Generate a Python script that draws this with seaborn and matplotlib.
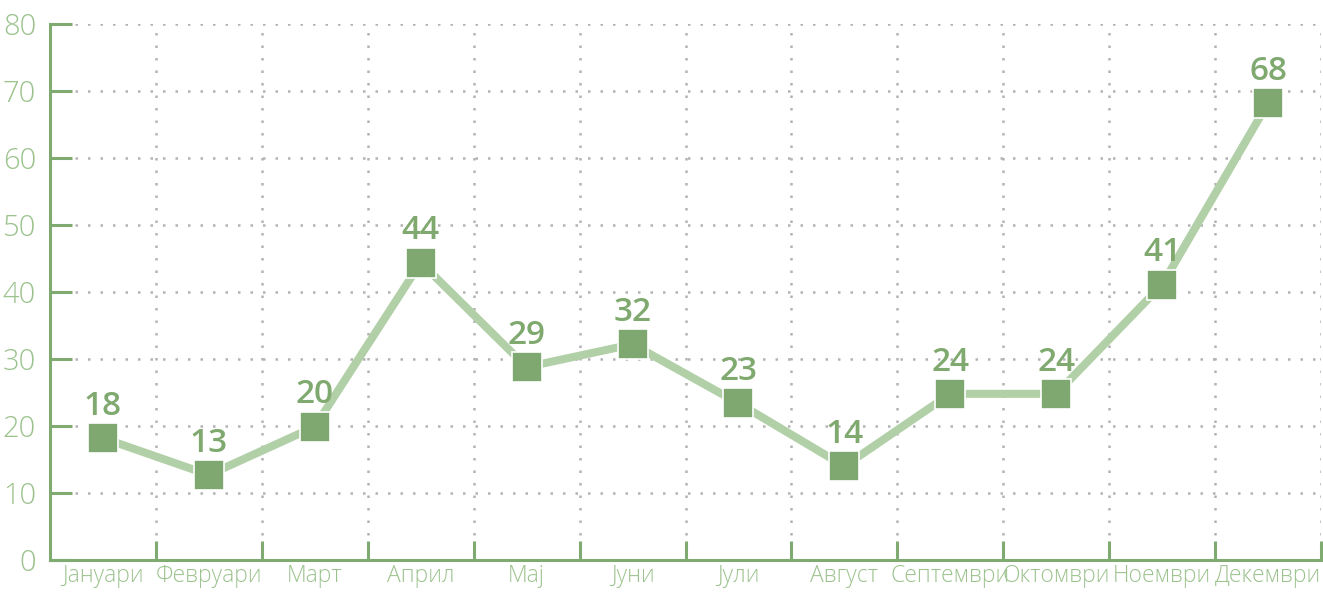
import numpy as np
import matplotlib
matplotlib.use("Agg")
from matplotlib import pyplot as plt
import seaborn as sns

months = ['Јануари', 'Февруари', 'Март', 'Април', 'Мај', 'Јуни', 'Јули',
          'Август', 'Септември', 'Октомври', 'Ноември', 'Декември']
values = [18.2, 12.7, 19.9, 44.4, 28.8, 32.2, 23.4, 14.0, 24.8, 24.8, 41.1, 68.2]
labels = ['18', '13', '20', '44', '29', '32', '23', '14', '24', '24', '41', '68']
y_ticks = [0, 10, 20, 30, 40, 50, 60, 70, 80]

axis_green = '#80ab70'
text_green = '#9cc38e'
line_green = '#b1d0a7'
marker_green = '#7fa870'
label_green = '#7fa96f'

sns.set_style('white')
plt.rcParams['font.family'] = ['Open Sans', 'DejaVu Sans']

fig = plt.figure(figsize=(13.23, 5.92), dpi=100)
ax = fig.add_axes([50 / 1323, 1 - 560 / 592, 1271 / 1323, 536 / 592])

x = np.arange(len(months))
sns.lineplot(x=x, y=values, ax=ax, color=line_green, linewidth=5.8,
             marker='s', markersize=21, markerfacecolor=marker_green,
             markeredgecolor='white', markeredgewidth=1.2, zorder=3)

for xi, v, lab in zip(x, values, labels):
    ax.annotate(lab, (xi, v), xytext=(0, 11), textcoords='offset points',
                ha='center', va='bottom', fontsize=24, fontweight='semibold',
                color=label_green, zorder=4)

ax.set_xlim(-0.5, 11.5)
ax.set_ylim(0, 80)
ax.set_yticks(y_ticks)
ax.set_yticklabels([str(t) for t in y_ticks])
ax.set_xticks(x)
ax.set_xticklabels(months)
ax.set_xticks(np.arange(0.5, 12, 1), minor=True)

ax.tick_params(axis='x', which='major', bottom=True, length=0, pad=3,
               labelsize=16.5, labelcolor=text_green)
ax.tick_params(axis='x', which='minor', bottom=True, direction='in', length=14,
               width=2.2, color=axis_green)
ax.tick_params(axis='y', which='major', left=True, direction='in', length=16,
               width=2.2, color=axis_green, pad=10, labelsize=21,
               labelcolor=text_green)
for t in ax.get_xticklabels() + ax.get_yticklabels():
    t.set_fontweight('light')

ax.grid(True, axis='y', which='major', color='#b3b3b3', linestyle=(0, (1, 4)),
        linewidth=1.8)
ax.grid(True, axis='x', which='minor', color='#b3b3b3', linestyle=(0, (1, 4)),
        linewidth=1.8)
ax.grid(False, axis='x', which='major')

for side in ['top', 'right']:
    ax.spines[side].set_visible(False)
for side in ['left', 'bottom']:
    ax.spines[side].set_color(axis_green)
    ax.spines[side].set_linewidth(2.2)

fig.savefig('out.png', dpi=100)
